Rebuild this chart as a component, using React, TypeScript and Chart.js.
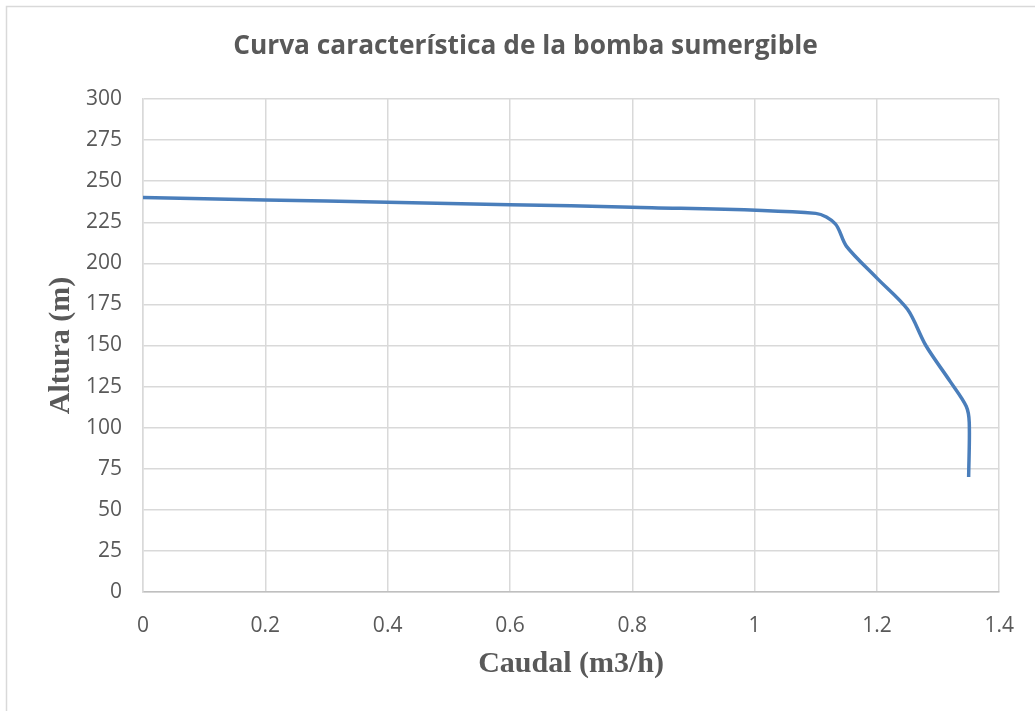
import React, { useEffect, useRef } from "react";
import { Chart, registerables } from "chart.js";

Chart.register(...registerables);

const chartTitle = "Curva característica de la bomba sumergible";
const xAxisTitle = "Caudal (m3/h)";
const yAxisTitle = "Altura (m)";

const caudal = [0, 0.2, 0.4, 0.6, 0.8, 1.1, 1.132, 1.15, 1.2, 1.25, 1.28, 1.32, 1.346, 1.351, 1.35];
const altura = [240, 238.6, 237.2, 235.7, 234.2, 230.4, 224, 210.5, 191, 172, 150, 128, 113, 103, 70];

const xTickLabels = ["0", "0.2", "0.4", "0.6", "0.8", "1", "1.2", "1.4"];
const yTickLabels = ["0", "25", "50", "75", "100", "125", "150", "175", "200", "225", "250", "275", "300"];

const decorations = {
  id: "decorations",
  beforeDraw(chart: any) {
    const ctx = chart.ctx;
    ctx.save();
    ctx.fillStyle = "#ffffff";
    ctx.fillRect(0, 0, chart.width, chart.height);
    ctx.strokeStyle = "#d9d9d9";
    ctx.lineWidth = 1.5;
    ctx.beginPath();
    ctx.moveTo(6.5, chart.height);
    ctx.lineTo(6.5, 6.5);
    ctx.lineTo(chart.width, 6.5);
    ctx.stroke();
    ctx.fillStyle = "#595959";
    ctx.font = "bold 26.3px 'Open Sans', sans-serif";
    ctx.textAlign = "center";
    ctx.textBaseline = "middle";
    ctx.fillText(chartTitle, 525.5, 47);
    ctx.restore();
  },
};

export default function App() {
  const ref = useRef<HTMLCanvasElement | null>(null);
  useEffect(() => {
    if (!ref.current) return;
    const points = caudal.map((x, i) => ({ x, y: altura[i] }));
    const chart = new Chart(ref.current, {
      type: "scatter",
      data: {
        datasets: [
          {
            data: points,
            showLine: true,
            borderColor: "#4a7ebb",
            borderWidth: 3.5,
            pointRadius: 0,
            tension: 0.3,
            fill: false,
          },
        ],
      },
      plugins: [decorations],
      options: {
        responsive: false,
        animation: false,
        layout: { padding: { left: 0, right: 34, top: 99, bottom: 0 } },
        plugins: {
          legend: { display: false },
          tooltip: { enabled: false },
          title: { display: false },
        },
        scales: {
          x: {
            type: "linear",
            min: 0,
            max: 1.4,
            ticks: {
              stepSize: 0.2,
              color: "#595959",
              padding: 21,
              maxRotation: 0,
              font: { family: "'Open Sans', sans-serif", size: 21 },
              callback: (_v: any, i: number) => xTickLabels[i],
            },
            grid: { color: "#d9d9d9", lineWidth: 1.5, drawTicks: false },
            border: { color: "#bfbfbf", width: 1.5 },
            title: {
              display: true,
              text: xAxisTitle,
              color: "#595959",
              font: { family: "'Liberation Serif', serif", size: 30, weight: "bold" },
              padding: { top: 0, bottom: 29 },
            },
            afterFit: (s: any) => {
              s.height = 119;
            },
          },
          y: {
            type: "linear",
            min: 0,
            max: 300,
            ticks: {
              stepSize: 25,
              color: "#595959",
              padding: 21,
              font: { family: "'Open Sans', sans-serif", size: 21 },
              callback: (_v: any, i: number) => yTickLabels[i],
            },
            grid: { color: "#d9d9d9", lineWidth: 1.5, drawTicks: false },
            border: { color: "#d9d9d9", width: 1.5 },
            title: {
              display: true,
              text: yAxisTitle,
              color: "#595959",
              font: { family: "'Liberation Serif', serif", size: 30, weight: "bold" },
              padding: { top: 43, bottom: 0 },
            },
            afterFit: (s: any) => {
              s.width = 143;
            },
          },
        },
      },
    });
    return () => chart.destroy();
  }, []);
  return (
    <div style={{ position: "absolute", left: 0, top: 0, width: 1035, height: 711 }}>
      <canvas ref={ref} width={1035} height={711} style={{ display: "block" }} />
    </div>
  );
}
